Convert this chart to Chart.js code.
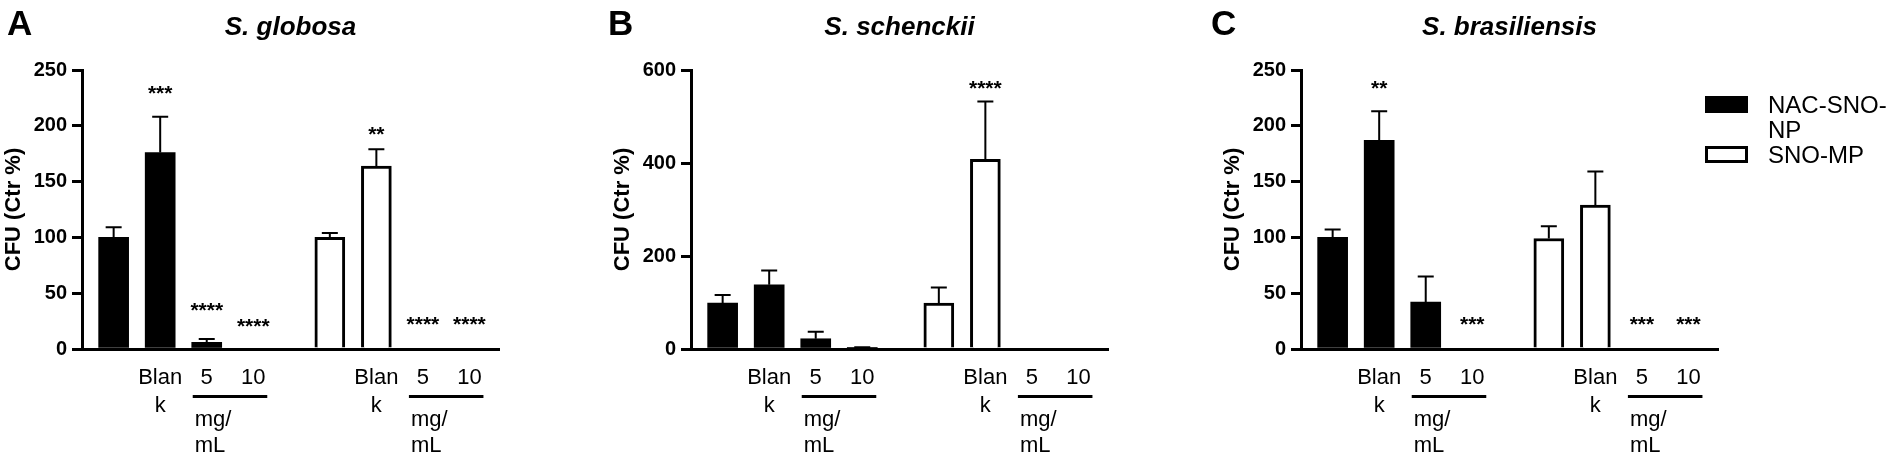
<!DOCTYPE html>
<html>
<head>
<meta charset="utf-8">
<title>CFU (Ctr %)</title>
<script src="https://cdn.jsdelivr.net/npm/chart.js@4.4.1/dist/chart.umd.min.js"></script>
<style>
  body { margin: 0; background: #fff; }
  #wrap { position: relative; width: 1892px; height: 454px; overflow: hidden; font-family: "Liberation Sans", Arial, sans-serif; color: #000; }
  canvas { position: absolute; top: 0; }
  .letter { position: absolute; top: 5px; font-weight: bold; font-size: 35px; line-height: 35px; }
  .key { position: absolute; left: 1705px; width: 43px; height: 17px; box-sizing: border-box; }
  .keyText { position: absolute; left: 1768px; font-size: 24px; line-height: 25px; white-space: nowrap; }
</style>
</head>
<body>
<div id="wrap">
  <canvas id="chartA" width="609" height="454" style="left:0px"></canvas>
  <canvas id="chartB" width="609" height="454" style="left:609px"></canvas>
  <canvas id="chartC" width="609" height="454" style="left:1219px"></canvas>
  <div class="letter" style="left:7px">A</div>
  <div class="letter" style="left:608px">B</div>
  <div class="letter" style="left:1211px">C</div>
  <div class="key" style="top:96px; background:#000"></div>
  <div class="keyText" style="top:92px">NAC-SNO-<br>NP</div>
  <div class="key" style="top:146px; background:#fff; border:3px solid #000"></div>
  <div class="keyText" style="top:142px">SNO-MP</div>
</div>
<script>
// Groups and the labels under each group of bars.
const groups = ['NAC-SNO-NP', 'SNO-MP'];
const doseLabels = ['', 'Blan\nk', '5', '10'];
const unitLabel = 'mg/\nmL';

// Panel A: S. globosa
const titleA = 'S. globosa';
const yTicksA = [0, 50, 100, 150, 200, 250];
const nacA = [100, 176, 6, 0];
const nacErrA = [9, 32, 3, 0];
const snoA = [100, 164, 0, 0];
const snoErrA = [4, 15, 0, 0];
const nacStarsA = ['', '***', '****', '****'];
const nacStarAtA = [null, 234, 39, 25];
const snoStarsA = ['', '**', '****', '****'];
const snoStarAtA = [null, 197, 27, 27];

// Panel B: S. schenckii
const titleB = 'S. schenckii';
const yTicksB = [0, 200, 400, 600];
const nacB = [99, 138, 22, 1];
const nacErrB = [17, 31, 15, 3];
const snoB = [99, 408, 0, 0];
const snoErrB = [33, 124, 0, 0];
const nacStarsB = ['', '', '', ''];
const nacStarAtB = [null, null, null, null];
const snoStarsB = ['', '****', '', ''];
const snoStarAtB = [null, 573, null, null];

// Panel C: S. brasiliensis
const titleC = 'S. brasiliensis';
const yTicksC = [0, 50, 100, 150, 200, 250];
const nacC = [100, 187, 42, 0];
const nacErrC = [7, 26, 23, 0];
const snoC = [99, 129, 0, 0];
const snoErrC = [11, 30, 0, 0];
const nacStarsC = ['', '**', '', '***'];
const nacStarAtC = [null, 238, null, 27];
const snoStarsC = ['', '', '***', '***'];
const snoStarAtC = [null, null, 27, 27];

const FONT = "'Liberation Sans', Arial, sans-serif";
const GROUP_STEP = 4.645; // second group sits a bit further right
Chart.defaults.font.family = FONT;
Chart.defaults.color = '#000';

function toPoints(g, values) {
  return values.map(function (v, i) {
    return { x: g * GROUP_STEP + i, y: v };
  });
}

// Error bars, asterisks, titles and the labels under the axis.
const decorPlugin = {
  id: 'decor',
  afterDatasetsDraw(chart) {
    const ctx = chart.ctx;
    const xs = chart.scales.x, ys = chart.scales.y;
    ctx.save();
    ctx.strokeStyle = '#000';
    ctx.lineWidth = 2;
    chart.data.datasets.forEach(function (ds) {
      ds.data.forEach(function (pt, i) {
        const e = ds.errors[i];
        if (!e) return;
        const cx = xs.getPixelForValue(pt.x);
        const y0 = ys.getPixelForValue(pt.y);
        const y1 = ys.getPixelForValue(pt.y + e);
        ctx.beginPath();
        ctx.moveTo(cx, y0);
        ctx.lineTo(cx, y1);
        ctx.moveTo(cx - 8, y1);
        ctx.lineTo(cx + 8, y1);
        ctx.stroke();
      });
    });
    ctx.restore();
  },
  afterDraw(chart) {
    const ctx = chart.ctx;
    const area = chart.chartArea;
    const xs = chart.scales.x, ys = chart.scales.y;
    const opts = chart.options.plugins.decor;
    ctx.save();
    ctx.fillStyle = '#000';
    ctx.strokeStyle = '#000';

    // Title
    ctx.font = 'italic bold 26px ' + FONT;
    ctx.textAlign = 'center';
    ctx.textBaseline = 'alphabetic';
    ctx.fillText(opts.title, (area.left + area.right) / 2, 35);

    chart.data.datasets.forEach(function (ds) {
      const px = ds.data.map(function (pt) { return xs.getPixelForValue(pt.x); });

      // Asterisks
      ctx.font = 'bold 21px ' + FONT;
      ctx.textAlign = 'center';
      ds.stars.forEach(function (s, i) {
        if (!s) return;
        ctx.fillText(s, px[i], ys.getPixelForValue(ds.starAt[i]) + 12);
      });

      // Dose labels
      ctx.font = '22px ' + FONT;
      doseLabels.forEach(function (lab, i) {
        lab.split('\n').forEach(function (line, k) {
          ctx.fillText(line, px[i], area.bottom + 35 + k * 28);
        });
      });

      // Bracket line under 5 and 10, then the unit
      ctx.lineWidth = 3;
      ctx.beginPath();
      ctx.moveTo(px[2] - 14, area.bottom + 47.5);
      ctx.lineTo(px[3] + 14, area.bottom + 47.5);
      ctx.stroke();
      ctx.textAlign = 'left';
      unitLabel.split('\n').forEach(function (line, k) {
        ctx.fillText(line, px[2] - 12, area.bottom + 76.5 + k * 26.5);
      });
    });
    ctx.restore();
  }
};

function buildPanel(id, title, yTicks, nac, nacErr, nacStars, nacStarAt, sno, snoErr, snoStars, snoStarAt) {
  const ctx = document.getElementById(id).getContext('2d');
  return new Chart(ctx, {
    type: 'bar',
    data: {
      datasets: [{
        label: groups[0],
        data: toPoints(0, nac),
        errors: nacErr,
        stars: nacStars,
        starAt: nacStarAt,
        backgroundColor: '#000',
        borderColor: '#000',
        borderWidth: 0
      }, {
        label: groups[1],
        data: toPoints(1, sno),
        errors: snoErr,
        stars: snoStars,
        starAt: snoStarAt,
        backgroundColor: '#fff',
        borderColor: '#000',
        borderWidth: 3
      }]
    },
    options: {
      responsive: false,
      animation: false,
      devicePixelRatio: 1,
      layout: { padding: { top: 70, right: 110, bottom: 105, left: 0 } },
      datasets: { bar: { barThickness: 30, grouped: false } },
      plugins: {
        legend: { display: false },
        tooltip: { enabled: false },
        decor: { title: title }
      },
      scales: {
        x: {
          type: 'linear',
          min: -0.68,
          max: 8.28,
          offset: false,
          grid: { display: false },
          ticks: { display: false },
          border: { display: true, color: '#000', width: 3 },
          afterFit: function (s) { s.height = 0; }
        },
        y: {
          min: yTicks[0],
          max: yTicks[yTicks.length - 1],
          ticks: {
            stepSize: yTicks[1] - yTicks[0],
            color: '#000',
            padding: 5,
            font: { size: 20, weight: 'bold' }
          },
          grid: { drawOnChartArea: false, drawTicks: true, tickLength: 10, color: '#000', lineWidth: 3 },
          border: { display: true, color: '#000', width: 3 },
          title: {
            display: true,
            text: 'CFU (Ctr %)',
            color: '#000',
            padding: { top: 1, bottom: 0 },
            font: { size: 22, weight: 'bold' }
          },
          afterFit: function (s) { s.width = 82; }
        }
      }
    },
    plugins: [decorPlugin]
  });
}

buildPanel('chartA', titleA, yTicksA, nacA, nacErrA, nacStarsA, nacStarAtA, snoA, snoErrA, snoStarsA, snoStarAtA);
buildPanel('chartB', titleB, yTicksB, nacB, nacErrB, nacStarsB, nacStarAtB, snoB, snoErrB, snoStarsB, snoStarAtB);
buildPanel('chartC', titleC, yTicksC, nacC, nacErrC, nacStarsC, nacStarAtC, snoC, snoErrC, snoStarsC, snoStarAtC);
</script>
</body>
</html>
